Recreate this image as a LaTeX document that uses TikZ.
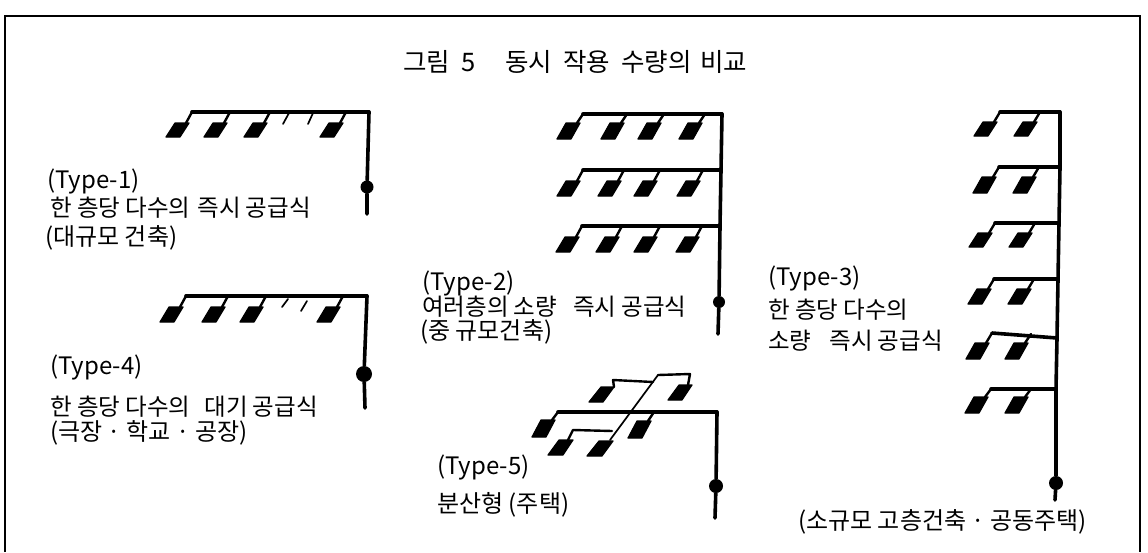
\documentclass[tikz,border=0pt]{standalone}
\usepackage{fontspec}
\setmainfont{Noto Sans CJK KR}
\tikzset{
  x=1pt,y=-1pt,
  lbl/.style={anchor=west,inner sep=0pt,font=\fontsize{24}{26}\selectfont},
  lbs/.style={anchor=west,inner sep=0pt,font=\fontsize{23.5}{26}\selectfont},
  ttl/.style={anchor=west,inner sep=0pt,font=\fontsize{25.5}{28}\selectfont},
  pipe/.style={line width=3.6pt,line cap=round,line join=round},
  riser/.style={line width=3.6pt,line cap=round,line join=round},
  drop/.style={line width=2.4pt,line cap=round},
  thin pipe/.style={line width=1.7pt,line cap=round},
  fixture/.style={fill=black,draw=black,line width=1.2pt,line join=round},
  valve/.style={circle,fill=black,inner sep=0pt,minimum size=#1},
}
% name, bottom-left x, bottom y, top y, pipe y
\newcommand{\fixt}[5]{%
  \fill[fixture] (#2+1,#3) -- (#2+10,#4) -- (#2+24,#4) -- (#2+15,#3) -- cycle;
  \coordinate (#1a) at (#2+21,#4);
  \coordinate (#1b) at (#2+27,#5);
  \draw[drop] (#1a) -- (#1b);
}
\begin{document}
\begin{tikzpicture}
\useasboundingbox (0,0) rectangle (1148,552);
\fill[white] (0,0) rectangle (1148,552);
% frame
\coordinate (fa) at (5,552); \coordinate (fb) at (5,16);
\coordinate (fc) at (1140,16); \coordinate (fd) at (1140,552);
\draw[line width=1.5pt] (fa) -- (fb) -- (fc) -- (fd);

\node[ttl] (title) at (403,62) {그림\hspace{11pt}5\hspace{30pt}동시\hspace{11pt}작용\hspace{11pt}수량의\hspace{9pt}비교};

% Type-1
\foreach \n/\x in {a/165,b/203,c/243,d/319} {\fixt{t1\n}{\x}{137}{123}{112}}
\coordinate (t1e) at (369,112); \coordinate (t1f) at (367,214);
\node[valve=13pt] (t1v) at (367,187) {};
\draw[pipe] (t1ab) -- (t1e);
\draw[riser] (t1e) -- (t1v) -- (t1f);
\coordinate (t1s1) at (283,124); \coordinate (t1s2) at (289,113);
\coordinate (t1s3) at (308,124); \coordinate (t1s4) at (313,113);
\draw[thin pipe] (t1s1) -- (t1s2) (t1s3) -- (t1s4);
\node[lbl] (t1l1) at (47,181) {(Type-1)};
\node[lbs] (t1l2) at (50,208) {한 층당 다수의\hspace{7pt}즉시 공급식};
\node[lbl] (t1l3) at (45,238) {(대규모 건축)};

% Type-4
\foreach \n/\x in {a/159,b/201,c/239,d/316} {\fixt{t4\n}{\x}{322}{307}{296}}
\coordinate (t4e) at (367,296); \coordinate (t4f) at (365,408);
\node[valve=16pt] (t4v) at (364,374) {};
\draw[pipe] (t4ab) -- (t4e);
\draw[riser] (t4e) -- (t4v) -- (t4f);
\coordinate (t4s1) at (282,307); \coordinate (t4s2) at (288,299);
\coordinate (t4s3) at (301,311); \coordinate (t4s4) at (307,301);
\draw[thin pipe] (t4s1) -- (t4s2) (t4s3) -- (t4s4);
\node[lbl] (t4l1) at (50,367) {(Type-4)};
\node[lbs] (t4l2) at (50,407) {한 층당 다수의\hspace{14pt}대기 공급식};
\node[lbl] (t4l3) at (50,433) {(극장 · 학교 · 공장)};

% Type-2
\foreach \n/\x in {a/556,b/600,c/637,d/678} {\fixt{t2a\n}{\x}{139}{123}{114}}
\foreach \n/\x in {a/556,b/597,c/633,d/676} {\fixt{t2b\n}{\x}{196}{181}{170}}
\foreach \n/\x in {a/555,b/595,c/633,d/675} {\fixt{t2c\n}{\x}{252}{237}{226}}
\coordinate (t2e) at (722,114); \coordinate (t2eb) at (721,170);
\coordinate (t2ec) at (720,226); \coordinate (t2f) at (718,334);
\node[valve=12pt] (t2v) at (719,302) {};
\draw[pipe] (t2aab) -- (t2e);
\draw[pipe] (t2bab) -- (t2eb);
\draw[pipe] (t2cab) -- (t2ec);
\draw[riser] (t2e) -- (t2eb) -- (t2ec) -- (t2v) -- (t2f);
\node[lbl] (t2l1) at (422,283) {(Type-2)};
\node[lbs] (t2l2) at (422,307) {여러층의 소량\hspace{16pt}즉시 공급식};
\node[lbl] (t2l3) at (420,332) {(중 규모건축)};

% Type-5
\fixt{t5c}{531}{437}{420}{412}
\fixt{t5f}{627}{438}{421}{412}
\coordinate (t5e) at (717,412); \coordinate (t5g) at (715,518);
\node[valve=14pt] (t5v) at (716,486) {};
\draw[pipe] (t5cb) -- (t5e);
\draw[riser] (t5e) -- (t5v) -- (t5g);
\coordinate (t5aa) at (589,402); \coordinate (t5ab) at (601,387);
\coordinate (t5ac) at (614,387); \coordinate (t5ad) at (603,402);
\fill[fixture] (t5aa) -- (t5ab) -- (t5ac) -- (t5ad) -- cycle;
\coordinate (t5ba) at (668,400); \coordinate (t5bb) at (679,385);
\coordinate (t5bc) at (692,385); \coordinate (t5bd) at (682,400);
\fill[fixture] (t5ba) -- (t5bb) -- (t5bc) -- (t5bd) -- cycle;
\coordinate (t5da) at (548,455); \coordinate (t5db) at (559,440);
\coordinate (t5dc) at (573,440); \coordinate (t5dd) at (563,455);
\fill[fixture] (t5da) -- (t5db) -- (t5dc) -- (t5dd) -- cycle;
\coordinate (t5ea) at (587,456); \coordinate (t5eb) at (599,441);
\coordinate (t5ec) at (613,441); \coordinate (t5ed) at (602,456);
\fill[fixture] (t5ea) -- (t5eb) -- (t5ec) -- (t5ed) -- cycle;
\coordinate (t5p1) at (613,380); \coordinate (t5p2) at (653,382);
\draw[drop,line join=round] (t5ac) -- (t5p1) -- (t5p2);
\coordinate (t5q1) at (610,440); \coordinate (t5q2) at (658,375);
\coordinate (t5q3) at (690,374); \coordinate (t5q4) at (688,385);
\draw[thin pipe,line join=round] (t5q1) -- (t5q2);
\draw[drop,line join=round] (t5q2) -- (t5q3) -- (t5q4);
\coordinate (t5r1) at (568,440); \coordinate (t5r2) at (573,430); \coordinate (t5r3) at (612,431);
\draw[drop,line join=round] (t5r1) -- (t5r2) -- (t5r3);
\node[lbl] (t5l1) at (437,467) {(Type-5)};
\node[lbl] (t5l2) at (437,505) {분산형 (주택)};

% Type-3
\fixt{t3aa}{973}{136}{122}{112} \fixt{t3ab}{1013}{136}{122}{112}
\fixt{t3ba}{972}{193}{177}{167} \fixt{t3bb}{1012}{193}{177}{167}
\fixt{t3ca}{968}{247}{233}{223} \fixt{t3cb}{1008}{247}{233}{223}
\fixt{t3da}{967}{304}{289}{279} \fixt{t3db}{1007}{304}{289}{279}
\fixt{t3ea}{965}{359}{343}{333} \fixt{t3eb}{1004}{359}{343}{334}
\fixt{t3fa}{964}{413}{397}{389} \fixt{t3fb}{1004}{413}{397}{389}
\coordinate (t3e1) at (1060,112); \coordinate (t3e2) at (1060,167);
\coordinate (t3e3) at (1059,223); \coordinate (t3e4) at (1058,279);
\coordinate (t3e5) at (1057,338); \coordinate (t3e6) at (1056,389);
\coordinate (t3f) at (1055,500);
\node[valve=14pt] (t3v) at (1056,483) {};
\draw[pipe] (t3aab) -- (t3e1);
\draw[pipe] (t3bab) -- (t3e2);
\draw[pipe] (t3cab) -- (t3e3);
\draw[pipe] (t3dab) -- (t3e4);
\draw[pipe] (t3eab) -- (t3e5);
\draw[pipe] (t3fab) -- (t3e6);
\draw[riser] (t3e1) -- (t3e2) -- (t3e3) -- (t3e4) -- (t3e5) -- (t3e6) -- (t3v) -- (t3f);
\node[lbl] (t3l1) at (768,278) {(Type-3)};
\node[lbs] (t3l2) at (768,310) {한 층당 다수의};
\node[lbs] (t3l3) at (768,341) {소량\hspace{18pt}즉시 공급식};
\node[lbl] (t3l4) at (798,522) {(소규모 고층건축 · 공동주택)};
\end{tikzpicture}
\end{document}
